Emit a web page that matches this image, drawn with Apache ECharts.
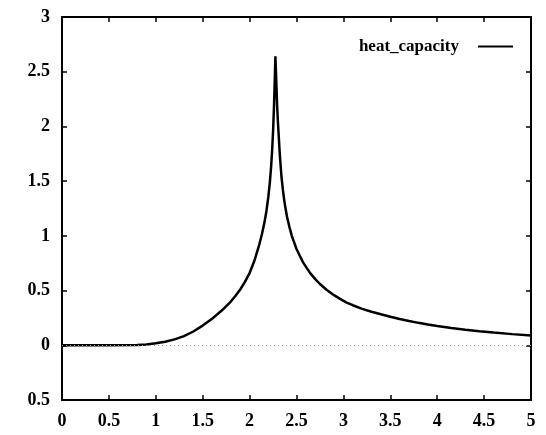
<!DOCTYPE html>
<html>
<head>
<meta charset="utf-8">
<script src="https://cdn.jsdelivr.net/npm/echarts@6/dist/echarts.min.js"></script>
<style>html,body{margin:0;padding:0;background:#fff;}#c{width:546px;height:435px;}</style>
</head>
<body>
<div id="c"></div>
<script>
var temperature = [0, 0.5, 0.8, 0.9, 1.0, 1.1, 1.2, 1.3, 1.4, 1.5, 1.6, 1.7, 1.8, 1.85, 1.9, 1.95, 2.0, 2.05, 2.1, 2.13, 2.16, 2.18, 2.2, 2.215, 2.23, 2.24, 2.25, 2.26, 2.268, 2.275, 2.28, 2.285, 2.29, 2.295, 2.3, 2.31, 2.32, 2.33, 2.34, 2.355, 2.37, 2.385, 2.4, 2.425, 2.45, 2.475, 2.5, 2.535, 2.57, 2.61, 2.65, 2.7, 2.75, 2.82, 2.9, 2.96, 3.03, 3.1, 3.2, 3.3, 3.4, 3.5, 3.6, 3.7, 3.8, 3.9, 4.0, 4.15, 4.3, 4.45, 4.6, 4.8, 5.0];
var heatCapacity = [0, 0, 0.002, 0.007, 0.018, 0.033, 0.054, 0.084, 0.126, 0.18, 0.243, 0.315, 0.40, 0.452, 0.51, 0.58, 0.66, 0.77, 0.91, 1.01, 1.13, 1.23, 1.36, 1.48, 1.64, 1.78, 1.95, 2.18, 2.42, 2.64, 2.52, 2.4, 2.27, 2.16, 2.07, 1.92, 1.77, 1.65, 1.54, 1.42, 1.32, 1.24, 1.17, 1.08, 1.0, 0.94, 0.88, 0.818, 0.758, 0.705, 0.655, 0.605, 0.56, 0.507, 0.458, 0.426, 0.393, 0.366, 0.333, 0.306, 0.283, 0.261, 0.241, 0.222, 0.205, 0.19, 0.176, 0.158, 0.142, 0.128, 0.116, 0.102, 0.09];
var xTickLabels = ['0', '0.5', '1', '1.5', '2', '2.5', '3', '3.5', '4', '4.5', '5'];
var yTickLabels = ['0.5', '0', '0.5', '1', '1.5', '2', '2.5', '3'];
var seriesName = 'heat_capacity';

var chart = echarts.init(document.getElementById('c'), null, {renderer: 'canvas'});
var font = 'Liberation Serif';
var lineData = temperature.map(function (t, i) { return [t, heatCapacity[i]]; });
function axisBase(pos, showLabel) {
  return {
    type: 'value', position: pos,
    axisLine: {show: true, onZero: false, lineStyle: {color: '#000', width: 2}},
    axisTick: {show: true, inside: true, length: 5, lineStyle: {color: '#000', width: 1.5}},
    splitLine: {show: false},
    axisLabel: {show: showLabel, color: '#000', fontFamily: font, fontWeight: 'bold', fontSize: 18, margin: 12}
  };
}
var xa = axisBase('bottom', true);
xa.min = 0; xa.max = 5; xa.interval = 0.5;
xa.axisLabel.formatter = function (v) { return xTickLabels[Math.round(v / 0.5)]; };
var xb = axisBase('top', false);
xb.min = 0; xb.max = 5; xb.interval = 0.5;
var ya = axisBase('left', true);
ya.min = -0.5; ya.max = 3; ya.interval = 0.5;
ya.axisLabel.formatter = function (v) { return yTickLabels[Math.round((v + 0.5) / 0.5)]; };
var yb = axisBase('right', false);
yb.min = -0.5; yb.max = 3; yb.interval = 0.5;

chart.setOption({
  animation: false,
  grid: {left: 62, right: 15, top: 17, bottom: 35},
  xAxis: [xa, xb],
  yAxis: [ya, yb],
  legend: {
    data: [seriesName], right: 33, top: 38, align: 'right', padding: 0,
    itemWidth: 35, itemHeight: 2, icon: 'rect',
    textStyle: {color: '#000', fontFamily: font, fontWeight: 'bold', fontSize: 17, padding: [0, 14, 0, 0]}
  },
  series: [
    {
      name: 'zero', type: 'line', data: [], xAxisIndex: 0, yAxisIndex: 0, z: 1,
      markLine: {silent: true, symbol: 'none', label: {show: false},
        lineStyle: {color: '#999', type: [1, 3], width: 1},
        data: [{yAxis: 0}]}
    },
    {
      name: seriesName, type: 'line', data: lineData, xAxisIndex: 0, yAxisIndex: 0, z: 3,
      showSymbol: false, smooth: false,
      lineStyle: {color: '#000', width: 2.5}, itemStyle: {color: '#000'}
    }
  ]
});
</script>
</body>
</html>
